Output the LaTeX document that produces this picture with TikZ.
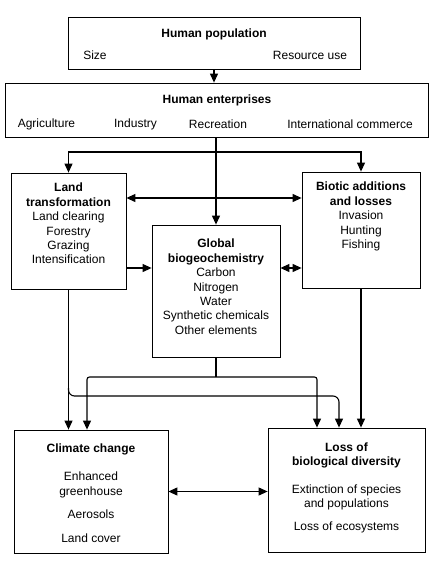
\documentclass[tikz,border=0pt]{standalone}
\usepackage{fontspec}
\setmainfont{Liberation Sans}
\usetikzlibrary{arrows.meta,positioning,calc}

\begin{document}
\begin{tikzpicture}[
  x=1pt,y=-1pt,
  font=\fontsize{12}{14.4}\selectfont,
  box/.style={draw,line width=0.8pt,inner sep=0pt},
  txt/.style={anchor=north,align=center,inner sep=0pt},
  arr/.style={-{Triangle[length=9pt,width=8pt]},line width=1.1pt},
  dbl/.style={{Triangle[length=9pt,width=8pt]}-{Triangle[length=9pt,width=8pt]},line width=1.1pt}
]
\useasboundingbox (0,0) rectangle (435,562);
% boxes
\node[box,minimum width=292,minimum height=52]  (pop)  at (214,43)    {};
\node[box,minimum width=423,minimum height=54]  (ent)  at (216.5,110) {};
\node[box,minimum width=115,minimum height=116] (land) at (68.5,231)  {};
\node[box,minimum width=118,minimum height=116] (biot) at (361,230)   {};
\node[box,minimum width=128,minimum height=132] (glob) at (216,291)   {};
\node[box,minimum width=154,minimum height=123] (clim) at (91,491.5)  {};
\node[box,minimum width=157,minimum height=124] (loss) at (346.5,490) {};
% texts
\node at (214,34) {\textbf{Human population}};
\node at (95,55)  {Size};
\node at (310,55) {Resource use};
\node at (217,100) {\textbf{Human enterprises}};
\node at (46.5,124) {Agriculture};
\node at (135.5,124) {Industry};
\node at (218,124) {Recreation};
\node at (350,124) {International commerce};
\node[txt,below=10.5pt of land.north] {\textbf{Land}\\\textbf{transformation}\\Land clearing\\Forestry\\Grazing\\Intensification};
\node[txt,below=14.5pt of glob.north] {\textbf{Global}\\\textbf{biogeochemistry}\\Carbon\\Nitrogen\\Water\\Synthetic chemicals\\Other elements};
\node[txt,below=10.5pt of biot.north] {\textbf{Biotic additions}\\\textbf{and losses}\\Invasion\\Hunting\\Fishing};
\node[txt,below=13.5pt of clim.north] {\textbf{Climate change}\\[14.5pt]Enhanced\\greenhouse\\[8.5pt]Aerosols\\[9.5pt]Land cover};
\node[txt,below=14.5pt of loss.north] {\textbf{Loss of}\\\textbf{biological diversity}\\[13.5pt]Extinction of species\\and populations\\[8.5pt]Loss of ecosystems};
% connectors
\coordinate (fork)  at (217,152);
\coordinate (lbrow) at (0,198);
\coordinate (mrow)  at (0,268);
\coordinate (gl)    at (87,377);
\coordinate (gr)    at (317,377);
\coordinate (lbend) at (68.5,388);
\coordinate (lr)    at (339,396);
\draw[arr] (pop.south) -- (pop.south |- ent.north);
\draw[arr] (ent.south -| glob.north) -- (glob.north);
\draw[dbl] (land.north) |- (fork) -| (biot.north);
\draw[dbl] (land.east |- lbrow) -- (biot.west |- lbrow);
\draw[arr] (land.east |- mrow) -- (glob.west |- mrow);
\draw[dbl] (glob.east |- mrow) -- (biot.west |- mrow);
\draw[line width=1.1pt] (glob.south) -- (glob.south |- gl);
\draw[dbl,rounded corners=2.5pt] (clim.north -| gl) -- (gl) -- (gr) -- (loss.north -| gr);
\draw[arr] (land.south) -- (land.south |- clim.north);
\draw[arr] (lbend) [rounded corners=6pt] |- (lr) [sharp corners] -- (loss.north -| lr);
\draw[arr] (biot.south) -- (biot.south |- loss.north);
\draw[dbl] (clim.east) -- (clim.east -| loss.west);
\end{tikzpicture}
\end{document}
